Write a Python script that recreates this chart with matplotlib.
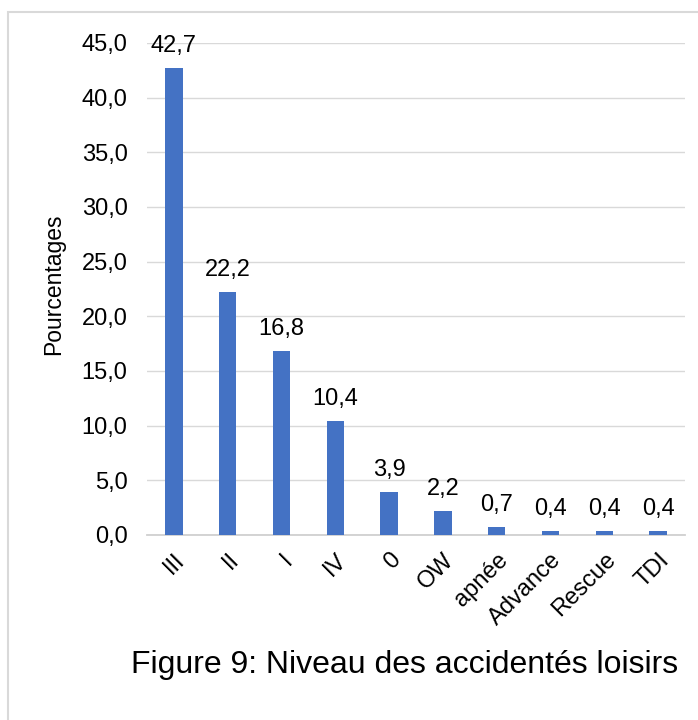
import matplotlib
matplotlib.use("Agg")
import matplotlib.pyplot as plt
from matplotlib.patches import Rectangle

plt.rcParams['font.family'] = ['Liberation Sans', 'DejaVu Sans']

categories = ["III", "II", "I", "IV", "0", "OW", "apnée", "Advance", "Rescue", "TDI"]
values = [42.7, 22.2, 16.8, 10.4, 3.9, 2.2, 0.7, 0.4, 0.4, 0.4]
yticks = [0, 5, 10, 15, 20, 25, 30, 35, 40, 45]
title = "Figure 9: Niveau des accidentés loisirs"
ylabel = "Pourcentages"

def fr(v):
    return f"{v:.1f}".replace(".", ",")

fig = plt.figure(figsize=(6.98, 7.20), dpi=100)
ax = fig.add_axes([147/698, 1-535/720, (685-147)/698, (535-43)/720])

x = list(range(len(categories)))
ax.bar(x, values, width=0.32, color="#4472C4", zorder=3)
for xi, v in zip(x, values):
    ax.text(xi, v + 1.0, fr(v), ha="center", va="bottom", fontsize=17, color="#000000")

ax.set_xlim(-0.5, len(categories) - 0.5)
ax.set_ylim(0, 45)
ax.set_yticks(yticks)
ax.set_yticklabels([fr(t) for t in yticks], fontsize=17)
ax.set_xticks(x)
ax.set_xticklabels(categories, rotation=45, ha="right", rotation_mode="anchor", fontsize=17)
ax.tick_params(axis="both", length=0)
ax.tick_params(axis="y", pad=14)
ax.tick_params(axis="x", pad=10)
ax.grid(axis="y", color="#d9d9d9", linewidth=1.0, zorder=0)
for s in ["top", "right", "left"]:
    ax.spines[s].set_visible(False)
ax.spines["bottom"].set_color("#d0d0d0")
ax.spines["bottom"].set_linewidth(1.3)
ax.set_ylabel(ylabel, fontsize=16.5)
ax.yaxis.set_label_coords(-0.152, 0.51)

fig.text(405/698, 1-665/720, title, ha="center", va="center", fontsize=23)

fig.patches.append(Rectangle((8/698, -0.1), 1.2, (720-12)/720 + 0.1, transform=fig.transFigure,
                             fill=False, edgecolor="#d9d9d9", linewidth=1.5, zorder=0))

fig.savefig("out.png", dpi=100)
